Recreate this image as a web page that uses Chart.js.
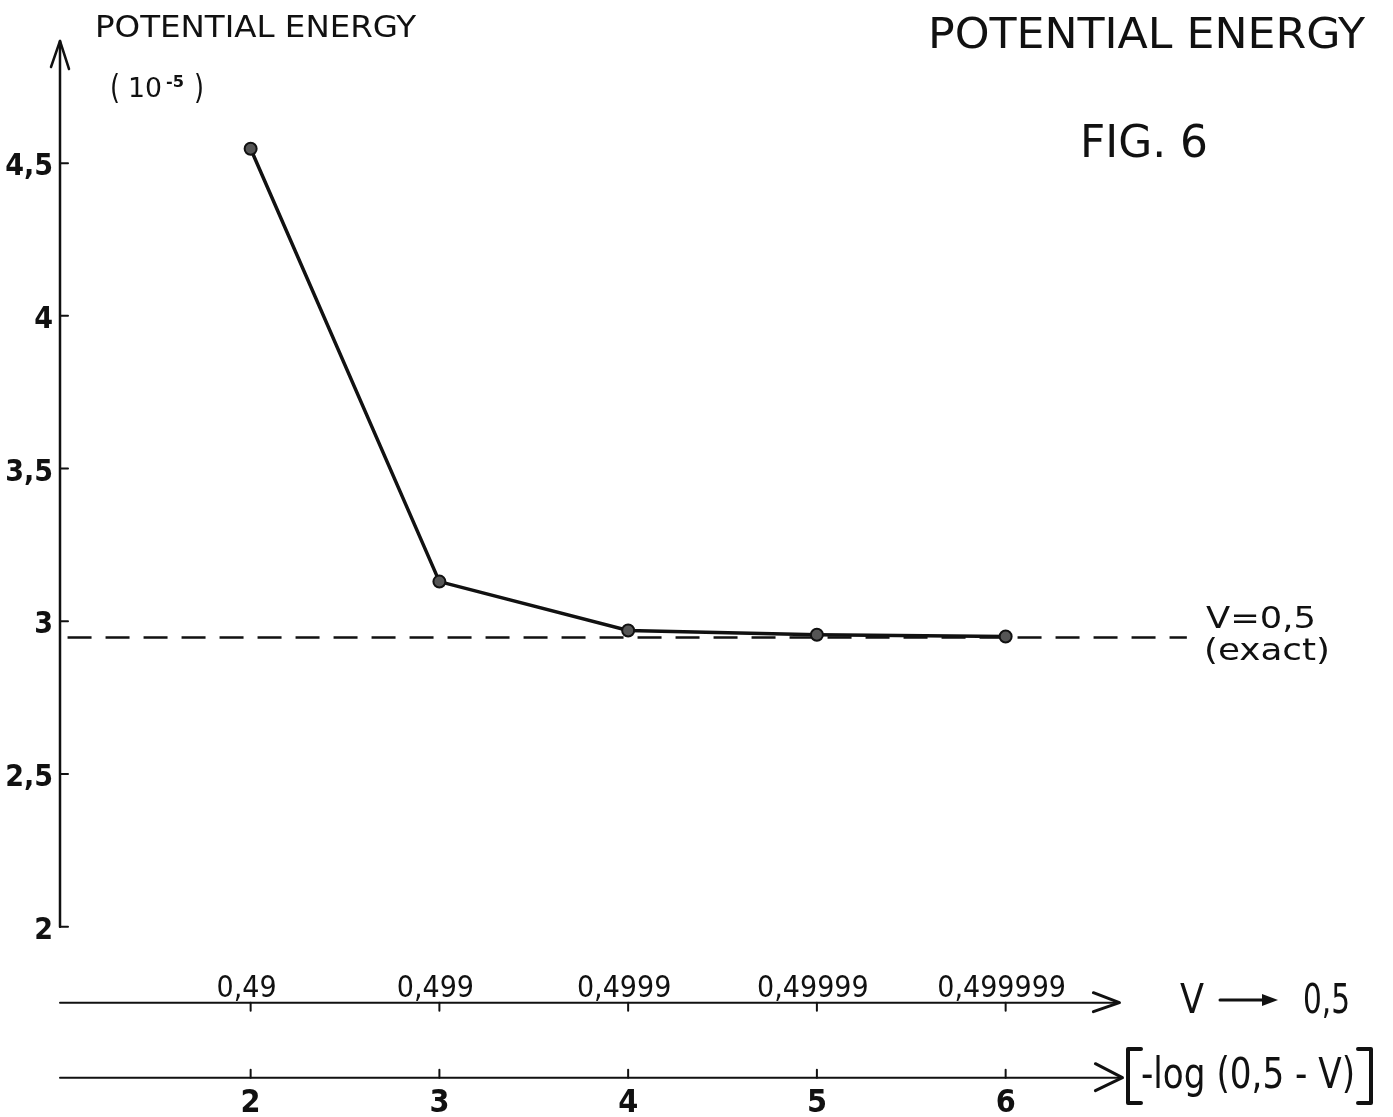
<!DOCTYPE html>
<html>
<head>
<meta charset="utf-8">
<script src="https://cdn.jsdelivr.net/npm/chart.js@4.4.1/dist/chart.umd.min.js"></script>
<style>
  html, body { margin: 0; padding: 0; background: #fff; }
  #wrap { width: 1393px; height: 1117px; position: relative; }
</style>
</head>
<body>
<div id="wrap"><canvas id="fig6"></canvas></div>
<script>
// data
var logTicks = [2, 3, 4, 5, 6];                       // -log(0,5 - V)
var vLabels = ["0,49", "0,499", "0,4999", "0,49999", "0,499999"];
var energy = [4.547, 3.130, 2.970, 2.956, 2.950];      // potential energy (10^-5)
var exactValue = 2.947;                                // V = 0,5 exact
var exactFrom = 1.03, exactTo = 6.96;
var yTicks = [2, 2.5, 3, 3.5, 4, 4.5];
var yTickLabels = ["2", "2,5", "3", "3,5", "4", "4,5"];

var INK = "#111";
var COND = '"DejaVu Sans Condensed", "DejaVu Sans", sans-serif';

// draws text stretched to a given width, left edge at x
function fitText(ctx, txt, x, y, w, size, weight) {
	ctx.save();
	ctx.font = (weight || "normal") + " " + size + "px " + COND;
	ctx.textAlign = "left";
	ctx.textBaseline = "alphabetic";
	var m = ctx.measureText(txt).width;
	ctx.translate(x, y);
	ctx.scale(w / m, 1);
	ctx.fillText(txt, 0, 0);
	ctx.restore();
}

function line(ctx, pts, width) {
	ctx.beginPath();
	ctx.lineWidth = width || 2.5;
	ctx.moveTo(pts[0][0], pts[0][1]);
	for (var i = 1; i < pts.length; i++) ctx.lineTo(pts[i][0], pts[i][1]);
	ctx.stroke();
}

var axesPlugin = {
	id: "handAxes",
	afterDraw: function (chart) {
		var ctx = chart.ctx;
		var xs = chart.scales.x, ys = chart.scales.y;
		var area = chart.chartArea;
		ctx.save();
		ctx.strokeStyle = INK;
		ctx.fillStyle = INK;
		ctx.lineCap = "round";
		ctx.lineJoin = "round";

		// y axis with arrow
		var ax = xs.getPixelForValue(xs.min);
		var top = area.top;
		line(ctx, [[ax, ys.getPixelForValue(yTicks[0])], [ax, top]], 2.5);
		line(ctx, [[ax - 9, top + 26], [ax, top], [ax + 9, top + 28]], 2.5);
		yTicks.forEach(function (v, i) {
			var py = ys.getPixelForValue(v);
			line(ctx, [[ax, py], [ax + 8, py]], 2);
			ctx.font = "bold 30px " + COND;
			ctx.textAlign = "right";
			ctx.textBaseline = "alphabetic";
			ctx.fillText(yTickLabels[i], ax - 7, py + 12);
		});

		// V axis (upper row)
		var vy = area.bottom + 76;
		var vEnd = area.right - 75;
		line(ctx, [[ax, vy], [vEnd, vy]], 2);
		line(ctx, [[vEnd - 26, vy - 10], [vEnd, vy], [vEnd - 26, vy + 9]], 3);
		// -log axis (lower row)
		var ly = area.bottom + 151;
		var lEnd = area.right - 72;
		line(ctx, [[ax, ly], [lEnd, ly]], 2);
		line(ctx, [[lEnd - 27, ly - 14], [lEnd, ly], [lEnd - 27, ly + 13]], 3);

		logTicks.forEach(function (t, i) {
			var px = xs.getPixelForValue(t);
			line(ctx, [[px, vy], [px, vy + 8]], 2);
			line(ctx, [[px, ly], [px, ly - 8]], 2);
			ctx.font = "30px " + COND;
			ctx.textAlign = "center";
			ctx.fillText(vLabels[i], px - 4, vy - 6);
			ctx.font = "bold 32px " + COND;
			ctx.fillText(String(t), px, ly + 34);
		});

		// V -> 0,5
		fitText(ctx, "V", 1180, 1013, 24, 40);
		line(ctx, [[1220, 1000], [1264, 1000]], 3);
		ctx.beginPath();
		ctx.moveTo(1278, 1000); ctx.lineTo(1262, 994); ctx.lineTo(1262, 1006); ctx.closePath();
		ctx.fill();
		fitText(ctx, "0,5", 1303, 1013, 47, 40);

		// [-log (0,5 - V)]
		line(ctx, [[1141, 1049], [1128, 1049], [1128, 1103], [1141, 1103]], 4);
		fitText(ctx, "-log (0,5 - V)", 1141, 1088, 214, 43);
		line(ctx, [[1358, 1049], [1371, 1049], [1371, 1103], [1358, 1103]], 4);

		// titles and labels
		fitText(ctx, "POTENTIAL ENERGY", 95, 37, 321, 30);
		fitText(ctx, "(", 110, 99, 10, 34);
		fitText(ctx, "10", 128, 97, 34, 26);
		fitText(ctx, "-5", 166, 87, 18, 16, "bold");
		fitText(ctx, ")", 194, 99, 10, 34);
		fitText(ctx, "POTENTIAL ENERGY", 928, 48, 437, 42);
		fitText(ctx, "FIG. 6", 1080, 157, 128, 44);
		fitText(ctx, "V=0,5", 1206, 628, 110, 31);
		fitText(ctx, "(exact)", 1204, 660, 126, 31);
		ctx.restore();
	}
};

var chart = new Chart(document.getElementById("fig6"), {
	type: "line",
	data: {
		datasets: [
			{
				label: "exact",
				data: [{ x: exactFrom, y: exactValue }, { x: exactTo, y: exactValue }],
				borderColor: INK,
				borderWidth: 2.5,
				borderDash: [24, 14],
				pointRadius: 0,
				order: 2
			},
			{
				label: "Potential energy",
				data: logTicks.map(function (t, i) { return { x: t, y: energy[i] }; }),
				borderColor: INK,
				borderWidth: 3.5,
				pointRadius: 6,
				pointBorderWidth: 2,
				pointBorderColor: INK,
				pointBackgroundColor: "#555",
				tension: 0,
				order: 1
			}
		]
	},
	options: {
		responsive: true,
		maintainAspectRatio: false,
		animation: false,
		layout: { padding: { left: 60, right: 198.6, top: 41, bottom: 190.3 } },
		plugins: {
			legend: { display: false },
			title: { display: false },
			tooltip: { enabled: false }
		},
		scales: {
			x: { type: "linear", min: 0.99, max: 7, display: false },
			y: { type: "linear", min: 2, max: 4.9, display: false }
		}
	},
	plugins: [axesPlugin]
});
</script>
</body>
</html>
